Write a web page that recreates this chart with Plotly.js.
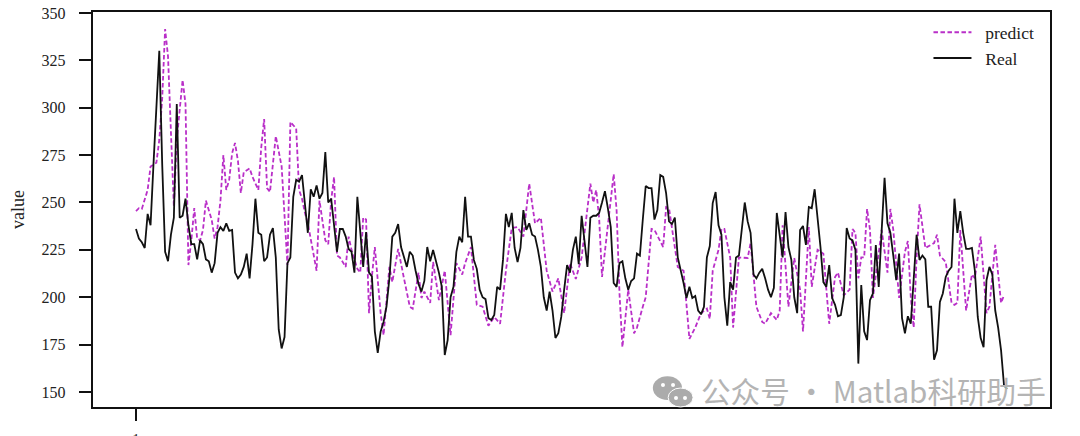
<!DOCTYPE html>
<html>
<head>
<meta charset="utf-8">
<script src="https://cdn.plot.ly/plotly-3.0.1.min.js"></script>
<style>html,body{margin:0;padding:0;background:#fff}#chart{width:1080px;height:436px}</style>
</head>
<body>
<div id="chart"></div>
<script>
const realValues = [
236,231,229,226,244,238,270,300,330,270,
224,219,233,242,302,242,243,252,238,228,
228,220,230,228,220,219,213,218,234,237,
235,239,235,235.5,213,210,212,216,223,210,
228,252,234,233,219,221,233,236.5,221,183,
173,179,218,221,253,262,261,264.5,251,234,
257,253,259,252,255,276.6,250,252,238,224,
236,236,232,225.5,224,213,253,232,216,234.4,
213,211,182,170.6,182,187,195,210,232,234,
238.6,226.5,221,216,224,222,214,207,203,208.6,
226.5,219,225,219.7,213,205.5,169.5,177.4,200,205.5,
224,232,229,253,232,232,219.7,215,204,200,
199,189,188,190.6,205.5,204,219.7,244,237,244.5,
226,218.6,226,246,235.5,239,233,232,225,216,
200,193,203,193,178.5,181,189.6,204,217,213,
225,232,217.5,243,228,216,242,243,243,244.5,
250,256,247,237,207.5,205.5,218,219,210,204,
208.6,210,223,222,241,258.7,257.6,257.6,241,246,
264.5,263.5,255,240,238.6,242,221,215,207.5,199.6,
205.5,199.6,200.7,193,191,195,221,227,249.7,255.5,
238,233,200,185,208,204,221,222,238,250,
240,234,212,210,213,215,210,204,200,205,
244.5,233,221,245,226.5,219.7,200,191.6,235.5,237.6,
227.6,247.6,247,257,242,226.5,208,205.5,217,199.6,
196,190,190.6,200,236.5,231,230,225,165,206.5,
182,177.4,198.5,202,227.6,205.5,235,263,239,234,
222,209,223,189,181,190,186,207.5,233,219.7,
222,220,195,195,167,172,197.5,202,210.7,214,
216,252,234,245.5,234,225.5,225.5,226,214,189.6,
178.5,173.7,209,216,212,193,184,172,153.7,151.6
];
const realSamples = realValues.map((_, i) => i + 1);

const predictSamples = [
1,2,3,4,5,6,8,9,10,11,
12,13,14,15,16,17,18,19,20,21,
22,23,24,25,27,28,29,30,31,32,
33,34,35,36,37,38,40,41,43,44,
45,46,47,48,49,51,52,53,54,56,
57,58,59,60,63,64,66,67,68,69,
70,71,73,74,75,77,78,79,80,81,
82,83,84,85,86,88,89,91,93,95,
96,98,99,100,102,103,105,107,109,111,
113,114,116,118,120,122,124,126,128,130,
132,134,136,138,140,142,144,146,148,150,
152,154,157,158,159,160,161,162,165,166,
167,168,169,170,172,173,175,176,178,179,
182,183,184,186,187,189,191,193,195,197,
198,199,201,202,203,205,206,208,211,212,
214,216,217,219,221,222,223,225,227,229,
230,232,233,235,237,239,241,242,244,246,
247,248,249,250,251,252,253,254,256,257,
259,260,261,263,265,266,267,268,269,270,
272,274,275,276,277,279,281,282,283,284,
286,288,289,291,293,294,296,298,299
];
const predictValues = [
245.5,247,246.6,252,256.6,269,271,283,305,341.5,
327,287,248,283,297,314.6,302,217,230,247,
231,230,235.5,251,240.8,231,237,251,275,256.6,
262,276,281.4,272,255,266,268,263.5,256.6,279,
294,257.6,255.5,269,285,269,242,217,292.5,289,
256.6,252,244.5,239,214,251,230,228,251,263.5,
222,221,216,232,225,215,213,242,241,191.6,
211,226.5,209,191.6,180,216,208,225.5,210,195,
194,213,199.6,203,197,218.6,198.5,214,180,218,
212,218,226.5,196,195,185,189.6,186,214,236.5,
237,232,260,239,242,214,203,210,191.6,218,
209.6,221,260,250,256.6,242,210.7,225,265,246,
202,173.7,189.6,204,181,184,195,200,236,235.5,
226.5,247.6,247,226.5,216,214,178,184,191.6,194,
188.6,214,225,236,236,221,184,221,220.7,228.6,
195,187,186,191.6,188,193,238,195,220.7,204,
182,237,205.5,225,223,186,210.7,213,201,204,
236,234,210,221,221,246.6,235.5,199.6,223,235.5,
213,246.6,235.5,199.6,224,229.7,200,184,221,249,
226,227.6,228.6,233,222,218.6,197,196,197,235.5,
193,212,210,232,191.6,195,227.6,197,201
];
const yTicks = [150,175,200,225,250,275,300,325,350];
const xTicks = [1];
const predictName = '\u00a0\u00a0predict';
const realName = '\u00a0\u00a0Real';
const watermark = '公众号 · Matlab科研助手';

const serif = '"Liberation Serif","Times New Roman",serif';
const wmGrey = '#b4b4b4';
const traces = [
  {x: predictSamples, y: predictValues, name: predictName, mode: 'lines',
   line: {color: '#b92fc8', width: 1.8, dash: '4.5px,2.5px'}},
  {x: realSamples, y: realValues, name: realName, mode: 'lines',
   line: {color: '#111111', width: 1.8}}
];
function dot(cx, cy) {
  return {type: 'circle', xref: 'paper', yref: 'paper', x0: cx - 0.0021, x1: cx + 0.0021,
          y0: cy - 0.005, y1: cy + 0.005, fillcolor: '#fff', line: {width: 0}};
}
const layout = {
  width: 1080, height: 436,
  margin: {l: 93, r: 30, t: 12, b: 29, pad: 0},
  paper_bgcolor: '#fff', plot_bgcolor: '#fff',
  font: {family: serif, color: '#222', size: 15},
  showlegend: true,
  legend: {x: 0.873, y: 0.994, xanchor: 'left', yanchor: 'top', bgcolor: 'rgba(0,0,0,0)',
           font: {family: serif, size: 17.5, color: '#222'}, itemwidth: 38, tracegroupgap: 0},
  xaxis: {range: [-13.76, 314.8], tickmode: 'array', tickvals: xTicks, ticktext: xTicks.map(String),
          ticks: 'outside', ticklen: 12, tickwidth: 2, tickcolor: '#111',
          showline: true, linewidth: 2.2, linecolor: '#111', mirror: true,
          showgrid: false, zeroline: false, ticklabelstandoff: 5,
          tickfont: {family: serif, size: 15, color: '#222'}},
  yaxis: {range: [142.1, 350.5], tickmode: 'array', tickvals: yTicks, ticktext: yTicks.map(String),
          ticks: 'outside', ticklen: 12, tickwidth: 2, tickcolor: '#111',
          showline: true, linewidth: 2.2, linecolor: '#111', mirror: true,
          showgrid: false, zeroline: false, ticklabelstandoff: 10,
          tickfont: {family: serif, size: 16, color: '#222'},
          title: {text: 'value', standoff: 12, font: {family: serif, size: 18, color: '#222'}}},
  annotations: [{
    xref: 'paper', yref: 'paper', x: 0.9975, y: 0.041, xanchor: 'right', yanchor: 'middle',
    showarrow: false, text: watermark,
    font: {family: '"Noto Sans CJK SC","Noto Sans",sans-serif', size: 29.6, color: wmGrey}
  }],
  shapes: [
    {type: 'circle', xref: 'paper', yref: 'paper', x0: 0.585, x1: 0.6155, y0: 0.018, y1: 0.078,
     fillcolor: '#ababab', line: {width: 0}},
    {type: 'circle', xref: 'paper', yref: 'paper', x0: 0.601, x1: 0.627, y0: 0.0, y1: 0.048,
     fillcolor: '#ababab', line: {color: '#fff', width: 1}},
    dot(0.5956, 0.0557), dot(0.6061, 0.0557), dot(0.6092, 0.0228), dot(0.6186, 0.0228)
  ]
};
Plotly.newPlot('chart', traces, layout, {displayModeBar: false, staticPlot: true});
</script>
</body>
</html>
